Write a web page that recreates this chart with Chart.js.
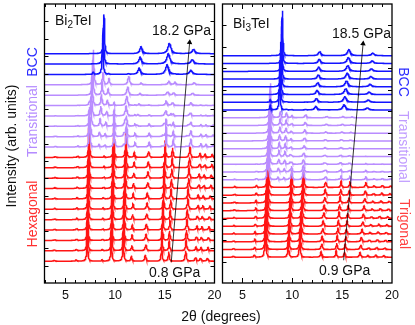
<!DOCTYPE html>
<html>
<head>
<meta charset="utf-8">
<script src="https://cdn.jsdelivr.net/npm/chart.js@4.4.1/dist/chart.umd.min.js"></script>
<style>
  html, body { margin: 0; padding: 0; background: #fff; }
  #wrap { position: relative; width: 415px; height: 325px; overflow: hidden;
          font-family: "Liberation Sans", Arial, Helvetica, sans-serif; color: #111; }
  #wrap canvas { position: absolute; left: 0; top: 0; }
  .lbl { position: absolute; white-space: nowrap; font-size: 14px; line-height: 14px; }
  .rotL { transform: translate(-50%, -50%) rotate(-90deg); }
  .rotR { transform: translate(-50%, -50%) rotate(90deg); }
  .ctr { transform: translate(-50%, -50%); }
  .lbl sub { font-size: 10px; line-height: 0; vertical-align: -3px; }
</style>
</head>
<body>
<div id="wrap">
  <canvas id="left" width="415" height="325"></canvas>
  <canvas id="right" width="415" height="325"></canvas>

  <div class="lbl rotL" style="left:11px; top:146px;">Intensity (arb. units)</div>
  <div class="lbl rotL" style="left:32px; top:214px; color:#ff3030;">Hexagonal</div>
  <div class="lbl rotL" style="left:32px; top:121px; color:#b58cff;">Transitional</div>
  <div class="lbl rotL" style="left:32px; top:62px; color:#2a2aff;">BCC</div>

  <div class="lbl rotR" style="left:404px; top:82px; color:#2a2aff;">BCC</div>
  <div class="lbl rotR" style="left:404px; top:147px; color:#c09cff;">Transitional</div>
  <div class="lbl rotR" style="left:405px; top:224px; color:#ff4040;">Trigonal</div>

  <div class="lbl" style="left:55px; top:13px;">Bi<sub>2</sub>TeI</div>
  <div class="lbl" style="left:233px; top:16px;">Bi<sub>3</sub>TeI</div>
  <div class="lbl" style="left:152px; top:23px;">18.2 GPa</div>
  <div class="lbl" style="left:332px; top:26px;">18.5 GPa</div>
  <div class="lbl" style="left:149px; top:265px;">0.8 GPa</div>
  <div class="lbl" style="left:319px; top:263px;">0.9 GPa</div>
  <div class="lbl ctr" style="left:221px; top:316px;">2θ (degrees)</div>
</div>

<script>
const xTicks = [5, 10, 15, 20];

// peaks as [2θ, height, half width], heights in panel y units
// Bi2TeI
const hexPeaks = [
  [3.9, 0.05, 0.08], [6.1, 0.08, 0.08], [7.2, 1.9, 0.05], [8.7, 0.08, 0.06],
  [9.62, 1.7, 0.05], [10.82, 1.3, 0.06], [11.65, 0.3, 0.06], [13.05, 0.35, 0.08],
  [14.68, 1.0, 0.05], [15.4, 0.55, 0.06], [17.1, 0.6, 0.07], [18.1, 0.22, 0.08],
  [18.6, 0.18, 0.08], [19.3, 0.18, 0.08]
];
const trans2Peaks = [
  [7.7, 2.0, 0.06], [8.65, 0.7, 0.07], [9.25, 0.35, 0.07], [11.2, 0.5, 0.1],
  [12.45, 0.1, 0.1], [15.2, 0.2, 0.12], [15.8, 0.15, 0.1], [17.7, 0.12, 0.12]
];
const bcc2Peaks = [[8.88, 2.25, 0.06], [12.62, 0.4, 0.15], [15.47, 0.6, 0.18], [17.9, 0.25, 0.18]];

// Bi3TeI
const trigPeaks = [
  [4.1, 0.05, 0.08], [6.2, 0.12, 0.06], [7.3, 2.1, 0.05], [9.6, 0.75, 0.06],
  [10.75, 0.75, 0.07], [12.9, 0.27, 0.08], [14.4, 0.3, 0.06], [15.25, 0.25, 0.07],
  [16.8, 0.22, 0.08], [17.6, 0.08, 0.1], [18.4, 0.1, 0.1], [19.2, 0.08, 0.1]
];
const trans3Peaks = [
  [7.7, 1.6, 0.06], [8.7, 0.3, 0.07], [9.3, 0.25, 0.07], [9.85, 0.1, 0.08],
  [11.2, 0.15, 0.1], [13.3, 0.06, 0.12], [14.9, 0.06, 0.12], [15.8, 0.04, 0.12]
];
const bcc3Peaks = [[9.0, 2.1, 0.05], [12.75, 0.2, 0.15], [15.68, 0.28, 0.18], [18.08, 0.12, 0.18]];

// patterns from lowest pressure (bottom) to highest (top)
const bi2Offset = [1.25, 1.85, 2.44, 3.04, 3.63, 4.23, 4.82, 5.42, 6.01, 6.61, 7.20,
                   7.80, 8.39, 8.99, 9.58, 10.18, 10.77, 11.37,
                   11.96, 12.56, 13.15];
const bi2Phase = ['H','H','H','H','H','H','H','H','H','H','H',
                  'T','T','T','T','T','T','T',
                  'B','B','B'];
const bi2Shift = [1.000, 1.003, 1.005, 1.008, 1.010, 1.013, 1.015, 1.018, 1.020, 1.023, 1.025,
                  0.970, 0.975, 0.982, 0.990, 0.998, 1.006, 1.015,
                  0.985, 0.993, 1.000];
const bi2Mix = [0, 0, 0, 0, 0, 0, 0, 0, 0, 0, 0,
                0.8, 0.6, 0.4, 0.2, 0.1, 0, 0,
                0.08, 0, 0];

const bi3Offset = [1.20, 1.56, 1.92, 2.28, 2.64, 3.01, 3.37, 3.73, 4.09, 4.45,
                   4.81, 5.17, 5.53, 5.89, 6.25, 6.62, 6.98, 7.34, 7.70,
                   8.06, 8.42, 8.78, 9.14, 9.50, 9.86, 10.23, 10.59];
const bi3Phase = ['H','H','H','H','H','H','H','H','H','H',
                  'T','T','T','T','T','T','T','T','T',
                  'B','B','B','B','B','B','B','B'];
const bi3Shift = [1.000, 1.004, 1.008, 1.012, 1.016, 1.020, 1.024, 1.028, 1.032, 1.035,
                  0.985, 0.990, 0.993, 0.996, 1.000, 1.003, 1.006, 1.010, 1.013,
                  0.970, 0.975, 0.980, 0.985, 0.990, 0.993, 0.997, 1.000];
const bi3Mix = [0, 0, 0, 0, 0, 0, 0, 0, 0, 0,
                0.6, 0.35, 0.15, 0.05, 0, 0, 0, 0, 0,
                0.15, 0.08, 0, 0, 0, 0, 0, 0];

// pressure arrows: start, end in data units, head rotation in degrees
const arrow2 = [[15.65, 1.2], [17.5, 13.8]];
const arrow3 = [[15.15, 1.06], [17.1, 11.15]];
const arrow2Rot = 4.8;
const arrow3Rot = 5.2;

const phaseColor = { H: '#ff1414', T: '#b98cff', B: '#1414ff' };
const prevPhase = { T: 'H', B: 'T' };

function buildCurve(xMin, off, parts) {
  const xs = [];
  for (let k = 0; xMin + k * 0.02 <= 20.001; k++) xs.push(xMin + k * 0.02);
  parts.forEach(([peaks, s, w]) => {
    if (w > 0) peaks.forEach(p => xs.push(p[0] * s));
  });
  xs.sort((a, b) => a - b);
  return xs.map(x => {
    let y = off;
    parts.forEach(([peaks, s, w]) => {
      if (w <= 0) return;
      peaks.forEach(([p, h, g]) => {
        const d = x - p * s;
        y += w * h * g * g / (d * d + g * g);
      });
    });
    return { x, y };
  });
}

function buildSets(xMin, offsets, phases, shifts, mixes, patterns, mixShift, arrow, rot) {
  const sets = [];
  sets.push({
    data: arrow.map(([x, y]) => ({ x, y })),
    borderColor: '#000', borderWidth: 0.8,
    pointRadius: [0, 3.2], pointStyle: 'triangle', pointRotation: rot,
    pointBackgroundColor: '#000', pointBorderColor: '#000', pointBorderWidth: 0
  });
  for (let i = offsets.length - 1; i >= 0; i--) {
    const ph = phases[i];
    const parts = [[patterns[ph], shifts[i], 1 - mixes[i]]];
    if (mixes[i] > 0) parts.push([patterns[prevPhase[ph]], mixShift[ph], mixes[i]]);
    sets.push({
      data: buildCurve(xMin, offsets[i], parts),
      borderColor: phaseColor[ph], borderWidth: 1.5,
      pointRadius: 0, tension: 0
    });
  }
  return sets;
}

const framePlugin = {
  id: 'frame',
  afterDatasetsDraw(chart) {
    const { ctx, chartArea: a, scales: { x, y } } = chart;
    ctx.save();
    ctx.strokeStyle = '#000';
    ctx.lineWidth = 1;
    ctx.beginPath();
    for (let v = Math.ceil(x.min); v < 20; v++) {
      if (v <= x.min) continue;
      const px = Math.round(x.getPixelForValue(v)) + 0.5;
      const len = xTicks.includes(v) ? 5 : 3;
      ctx.moveTo(px, a.bottom); ctx.lineTo(px, a.bottom - len);
      ctx.moveTo(px, a.top); ctx.lineTo(px, a.top + len);
    }
    for (let v = 1; v < y.max; v++) {
      const py = Math.round(y.getPixelForValue(v)) + 0.5;
      ctx.moveTo(a.left, py); ctx.lineTo(a.left + 4, py);
      ctx.moveTo(a.right, py); ctx.lineTo(a.right - 4, py);
    }
    ctx.stroke();
    ctx.lineWidth = 1.3;
    ctx.strokeRect(a.left, a.top, a.right - a.left, a.bottom - a.top);
    ctx.fillStyle = '#111';
    ctx.font = '12.5px "Liberation Sans", Arial, sans-serif';
    ctx.textAlign = 'center';
    ctx.textBaseline = 'alphabetic';
    xTicks.forEach(v => ctx.fillText(String(v), x.getPixelForValue(v), 299));
    ctx.restore();
  }
};

function makePanel(id, sets, xMin, yMax, area) {
  return new Chart(document.getElementById(id), {
    type: 'line',
    data: { datasets: sets },
    options: {
      responsive: false,
      animation: false,
      events: [],
      layout: { padding: { left: area[0], right: 415 - area[1], top: area[2], bottom: 325 - area[3] } },
      scales: {
        x: { type: 'linear', min: xMin, max: 20, display: false },
        y: { type: 'linear', min: 0, max: yMax, display: false }
      },
      plugins: { legend: { display: false }, tooltip: { enabled: false } }
    },
    plugins: [framePlugin]
  });
}

makePanel('left',
  buildSets(2.9, bi2Offset, bi2Phase, bi2Shift, bi2Mix,
            { H: hexPeaks, T: trans2Peaks, B: bcc2Peaks }, { T: 1.03, B: 1.015 }, arrow2, arrow2Rot),
  2.9, 16, [44.5, 214.5, 1.5, 283]);

makePanel('right',
  buildSets(3.0, bi3Offset, bi3Phase, bi3Shift, bi3Mix,
            { H: trigPeaks, T: trans3Peaks, B: bcc3Peaks }, { T: 1.035, B: 1.013 }, arrow3, arrow3Rot),
  3.0, 13, [222.5, 392, 1.5, 283]);
</script>
</body>
</html>
